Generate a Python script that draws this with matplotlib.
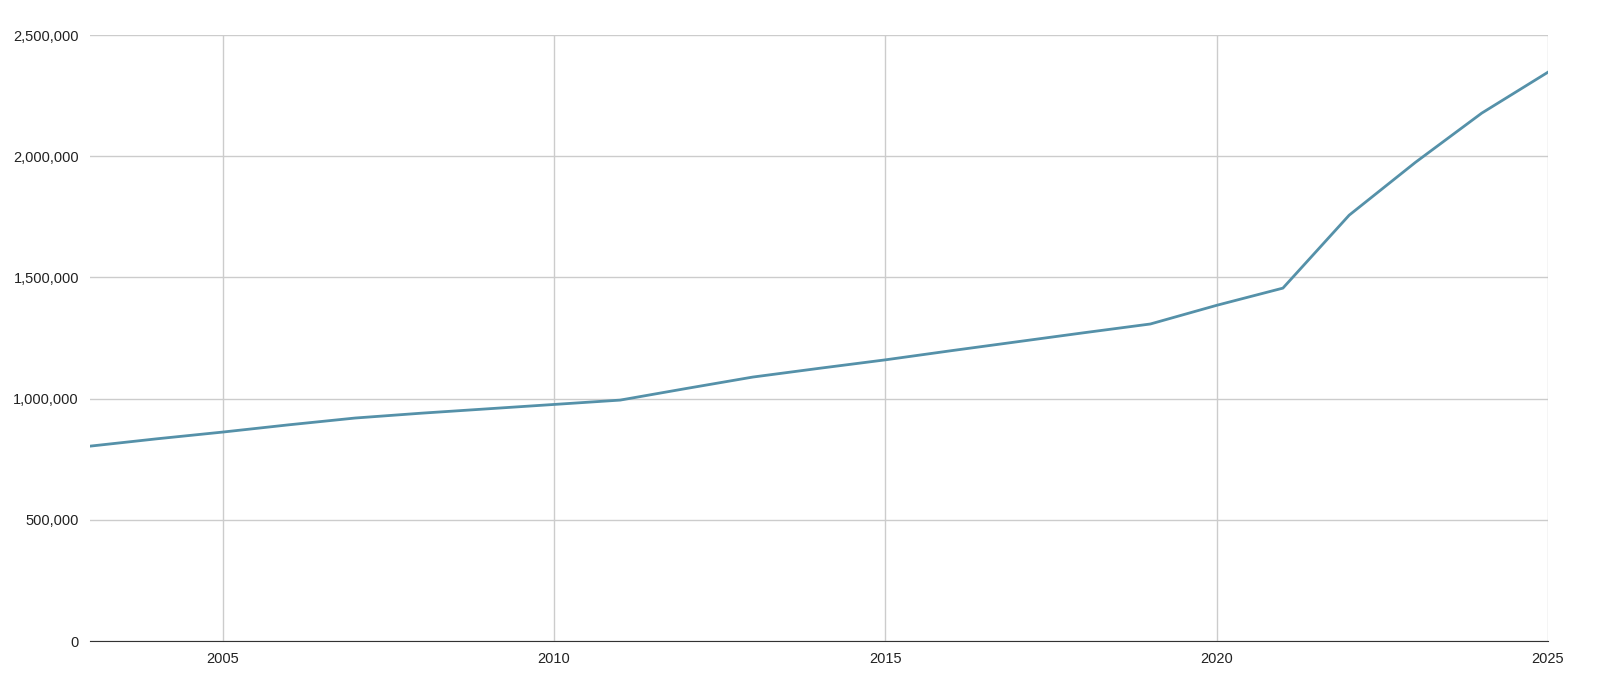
import matplotlib
matplotlib.use("Agg")
import matplotlib.pyplot as plt
from matplotlib.ticker import FuncFormatter

plt.rcParams['font.family'] = ['Liberation Sans', 'DejaVu Sans']

years = list(range(2003, 2026))
values = [804000, 834000, 862000, 892000, 920000, 940000, 958000, 976000, 994000,
          1042000, 1089000, 1125000, 1160000, 1198000, 1235000, 1272000, 1308000,
          1385000, 1456000, 1757000, 1975000, 2178000, 2347000]
x_ticks = [2005, 2010, 2015, 2020, 2025]
y_ticks = [0, 500000, 1000000, 1500000, 2000000, 2500000]

fig = plt.figure(figsize=(16, 6.88), dpi=100)
ax = fig.add_axes([0.05625, 0.0683, 0.91125, 0.8807])
ax.plot(years, values, color="#5591a9", linewidth=2)

ax.set_xlim(2003, 2025)
ax.set_ylim(0, 2500000)
ax.set_xticks(x_ticks)
ax.set_yticks(y_ticks)
ax.yaxis.set_major_formatter(FuncFormatter(lambda v, p: f"{int(v):,}"))
ax.grid(True, color="#cccccc", linewidth=1)
ax.set_axisbelow(True)
for s in ["top", "right", "left"]:
    ax.spines[s].set_visible(False)
ax.spines["bottom"].set_color("#333333")
ax.tick_params(length=0, labelsize=10.5, colors="#222222", pad=8)

fig.savefig("out.png", dpi=100)
